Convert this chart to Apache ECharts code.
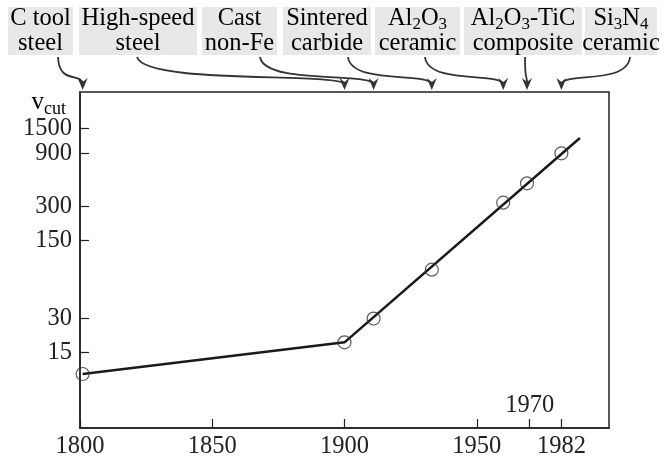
<!DOCTYPE html>
<html>
<head>
<meta charset="utf-8">
<script src="https://cdn.jsdelivr.net/npm/echarts@6/dist/echarts.min.js"></script>
<style>
html, body { margin: 0; padding: 0; background: #fff; }
#chart { width: 664px; height: 464px; }
</style>
</head>
<body>
<div id="chart"></div>
<script>
// data
const years = [1801, 1900, 1911, 1933, 1960, 1969, 1982];
const vcut = [9.6, 18.4, 30, 82, 325, 484, 897];
const trendYears = [1801, 1900, 1989];
const trendVcut = [9.6, 18.4, 1228];
const materials = [
    '{n|C tool}\n{n|steel}',
    '{n|High-speed}\n{n|steel}',
    '{n|Cast}\n{n|non-Fe}',
    '{n|Sintered}\n{n|carbide}',
    '{n|Al}{s|2}{n|O}{s|3}\n{n|ceramic}',
    '{n|Al}{s|2}{n|O}{s|3}{n|-TiC}\n{n|composite}',
    '{n|Si}{s|3}{n|N}{s|4}\n{n|ceramic}'
];
const yTicks = [15, 30, 150, 300, 900, 1500];
const xTicks = [1800, 1850, 1900, 1950, 1970, 1982];
const xLabels = [1800, 1850, 1900, 1950, 1982];

// layout of the label boxes (centre x, width) and arrow start points
const boxCx = [40.5, 138, 239.5, 327, 417.5, 523, 621];
const boxW = [65, 118, 75, 88, 85, 118, 72];
const arrowStart = [58, 137, 260, 348, 425, 525, 630];

const FONT = 'Liberation Serif';
const INK = '#222';

const chart = echarts.init(document.getElementById('chart'));
const lg = v => Math.log10(v);

chart.setOption({
    animation: false,
    grid: { left: 80, right: 55, top: 92, bottom: 36, show: true, borderColor: INK, borderWidth: 1.5 },
    xAxis: {
        type: 'value', min: 1800, max: 2000,
        splitLine: { show: false },
        axisLine: { lineStyle: { color: INK, width: 1.5 } },
        axisTick: { inside: true, length: 9, customValues: xTicks, lineStyle: { color: INK, width: 1.2 } },
        axisLabel: {
            customValues: xLabels, color: INK, fontFamily: FONT, fontSize: 24.5, margin: 6,
            formatter: v => String(v)
        }
    },
    yAxis: {
        type: 'value', min: 0.5, max: 3.5,
        splitLine: { show: false },
        axisLine: { lineStyle: { color: INK, width: 1.5 } },
        axisTick: { inside: true, length: 9, customValues: yTicks.map(lg), lineStyle: { color: INK, width: 1.2 } },
        axisLabel: {
            customValues: yTicks.map(lg), color: INK, fontFamily: FONT, fontSize: 24.5, margin: 8,
            formatter: v => String(Math.round(Math.pow(10, v)))
        }
    },
    series: [
        {
            type: 'line',
            data: trendYears.map((y, i) => [y, lg(trendVcut[i])]),
            showSymbol: false,
            lineStyle: { color: '#1a1a1a', width: 2.5 },
            z: 2
        },
        {
            type: 'scatter',
            data: years.map((y, i) => [y, lg(vcut[i])]),
            symbol: 'circle',
            symbolSize: 13,
            itemStyle: { color: 'rgba(0,0,0,0)', borderColor: '#333', borderWidth: 1.2 },
            z: 3
        }
    ]
});

// labels, boxes and arrows
const rich = {
    n: { fontFamily: FONT, fontSize: 24.5, lineHeight: 25, color: INK, verticalAlign: 'top' },
    s: { fontFamily: FONT, fontSize: 17, lineHeight: 15, padding: [10, 0, 0, 0], color: INK, verticalAlign: 'top' }
};
const graphics = [];
const topY = chart.convertToPixel({ gridIndex: 0 }, [1800, 3.5])[1];
materials.forEach((txt, i) => {
    graphics.push({
        type: 'rect',
        shape: { x: boxCx[i] - boxW[i] / 2, y: 7, width: boxW[i], height: 48 },
        style: { fill: '#e8e8e8' }
    });
    graphics.push({
        type: 'text',
        x: boxCx[i], y: 31,
        style: { text: txt, rich: rich, align: 'center', verticalAlign: 'middle' }
    });
    const ex = chart.convertToPixel({ gridIndex: 0 }, [years[i], lg(vcut[i])])[0];
    const ey = topY - 2;
    const sx = arrowStart[i], sy = 57;
    const dx = ex - sx;
    graphics.push({
        type: 'bezierCurve',
        shape: {
            x1: sx, y1: sy,
            cpx1: sx + dx * 0.04, cpy1: sy + 28,
            cpx2: ex - dx * 0.035, cpy2: ey - 18,
            x2: ex, y2: ey - 6
        },
        style: { stroke: '#333', lineWidth: 1.8, fill: null }
    });
    graphics.push({
        type: 'polygon',
        shape: { points: [[ex, ey], [ex - 5, ey - 12], [ex, ey - 8], [ex + 5, ey - 12]] },
        style: { fill: '#333' }
    });
});

const p1970 = chart.convertToPixel({ gridIndex: 0 }, [1970, 0.5]);
graphics.push({
    type: 'text', x: p1970[0], y: p1970[1] - 22,
    style: { text: '1970', font: '24.5px "Liberation Serif"', fill: INK, align: 'center', verticalAlign: 'middle' }
});
graphics.push({
    type: 'text', x: 66, y: 102,
    style: {
        text: '{v|v}{c|cut}',
        rich: {
            v: { fontFamily: FONT, fontSize: 25, lineHeight: 24, color: INK, verticalAlign: 'top' },
            c: { fontFamily: FONT, fontSize: 18, lineHeight: 18, padding: [10, 0, 0, 0], color: INK, verticalAlign: 'top' }
        },
        align: 'right', verticalAlign: 'middle'
    }
});
chart.setOption({ graphic: graphics });

window.addEventListener('resize', function() {
    chart.resize();
});
</script>
</body>
</html>
